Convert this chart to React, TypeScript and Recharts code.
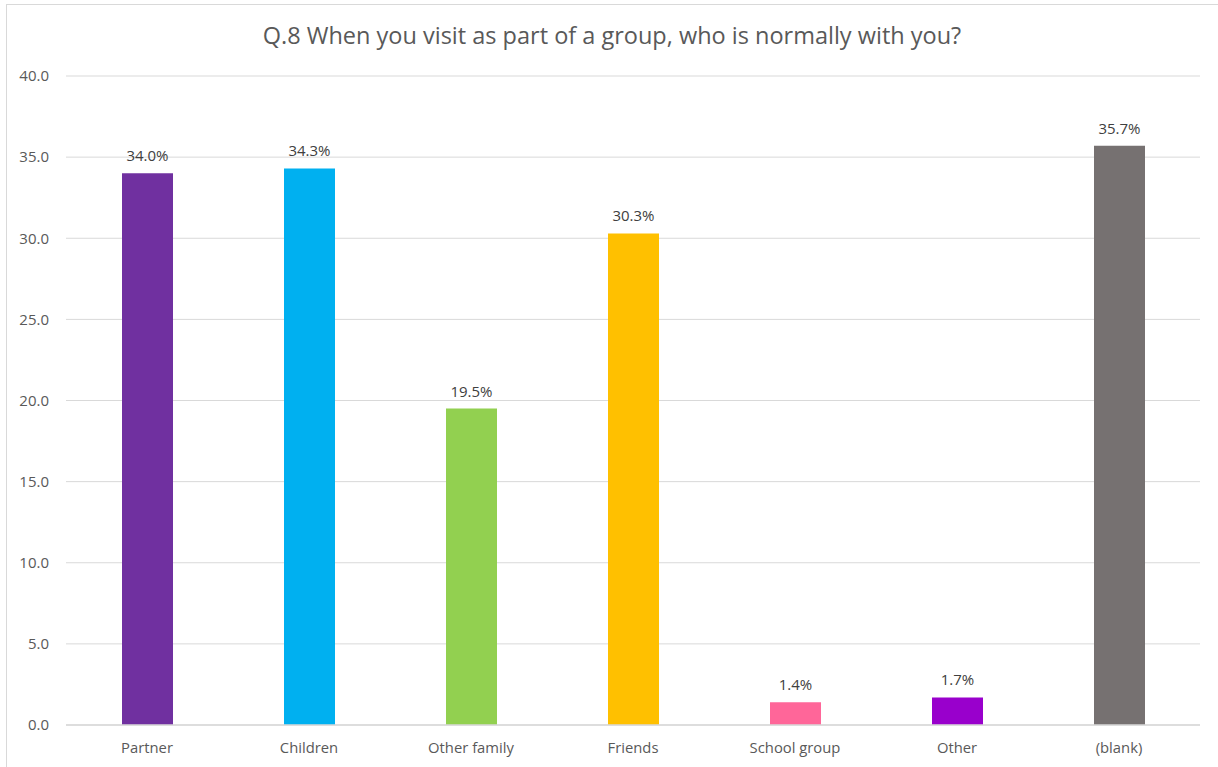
import { BarChart, Bar, XAxis, YAxis, CartesianGrid, Cell, LabelList } from "recharts";

const categories = ["Partner", "Children", "Other family", "Friends", "School group", "Other", "(blank)"];
const percents = [34.0, 34.3, 19.5, 30.3, 1.4, 1.7, 35.7];
const barColors = ["#7030A0", "#00B0F0", "#92D050", "#FFC000", "#FF6699", "#9900CC", "#767171"];
const yTicks = [0, 5, 10, 15, 20, 25, 30, 35, 40];

const title = "Q.8 When you visit as part of a group, who is normally with you?";

const data = categories.map((name, i) => ({ name, value: percents[i] }));

const font = "'Open Sans', sans-serif";

export default function App() {
  return (
    <div style={{ position: "fixed", left: 0, top: 0, width: 1218, height: 767, overflow: "hidden", background: "#fff", fontFamily: font }}>
      <div style={{ position: "absolute", left: 6, top: 4, width: 1240, height: 800, border: "1px solid #d9d9d9" }} />
      <div style={{ position: "absolute", left: 0, top: 19, width: 1224, textAlign: "center", fontSize: 23.5, color: "#595959", whiteSpace: "nowrap" }}>
        {title}
      </div>
      <div style={{ position: "absolute", left: 0, top: 0 }}>
        <BarChart width={1218} height={767} data={data} margin={{ top: 76, right: 18, bottom: 12, left: 0 }}>
          <CartesianGrid vertical={false} stroke="#d9d9d9" />
          <XAxis
            dataKey="name"
            height={30}
            tickLine={false}
            tickSize={0}
            tickMargin={17}
            axisLine={{ stroke: "#d9d9d9", strokeWidth: 1.5 }}
            tick={{ fill: "#595959", fontSize: 14.8, fontFamily: font }}
            interval={0}
          />
          <YAxis
            width={66}
            domain={[0, 40]}
            ticks={yTicks}
            tickFormatter={(v: number) => v.toFixed(1)}
            axisLine={false}
            tickLine={false}
            tickSize={0}
            tickMargin={17}
            tick={{ fill: "#595959", fontSize: 15, fontFamily: font }}
          />
          <Bar dataKey="value" barSize={51} isAnimationActive={false}>
            {data.map((d, i) => (
              <Cell key={d.name} fill={barColors[i]} />
            ))}
            <LabelList
              dataKey="value"
              position="top"
              offset={12}
              formatter={(v: number) => `${v.toFixed(1)}%`}
              style={{ fill: "#404040", fontSize: 15, fontFamily: font }}
            />
          </Bar>
        </BarChart>
      </div>
    </div>
  );
}
